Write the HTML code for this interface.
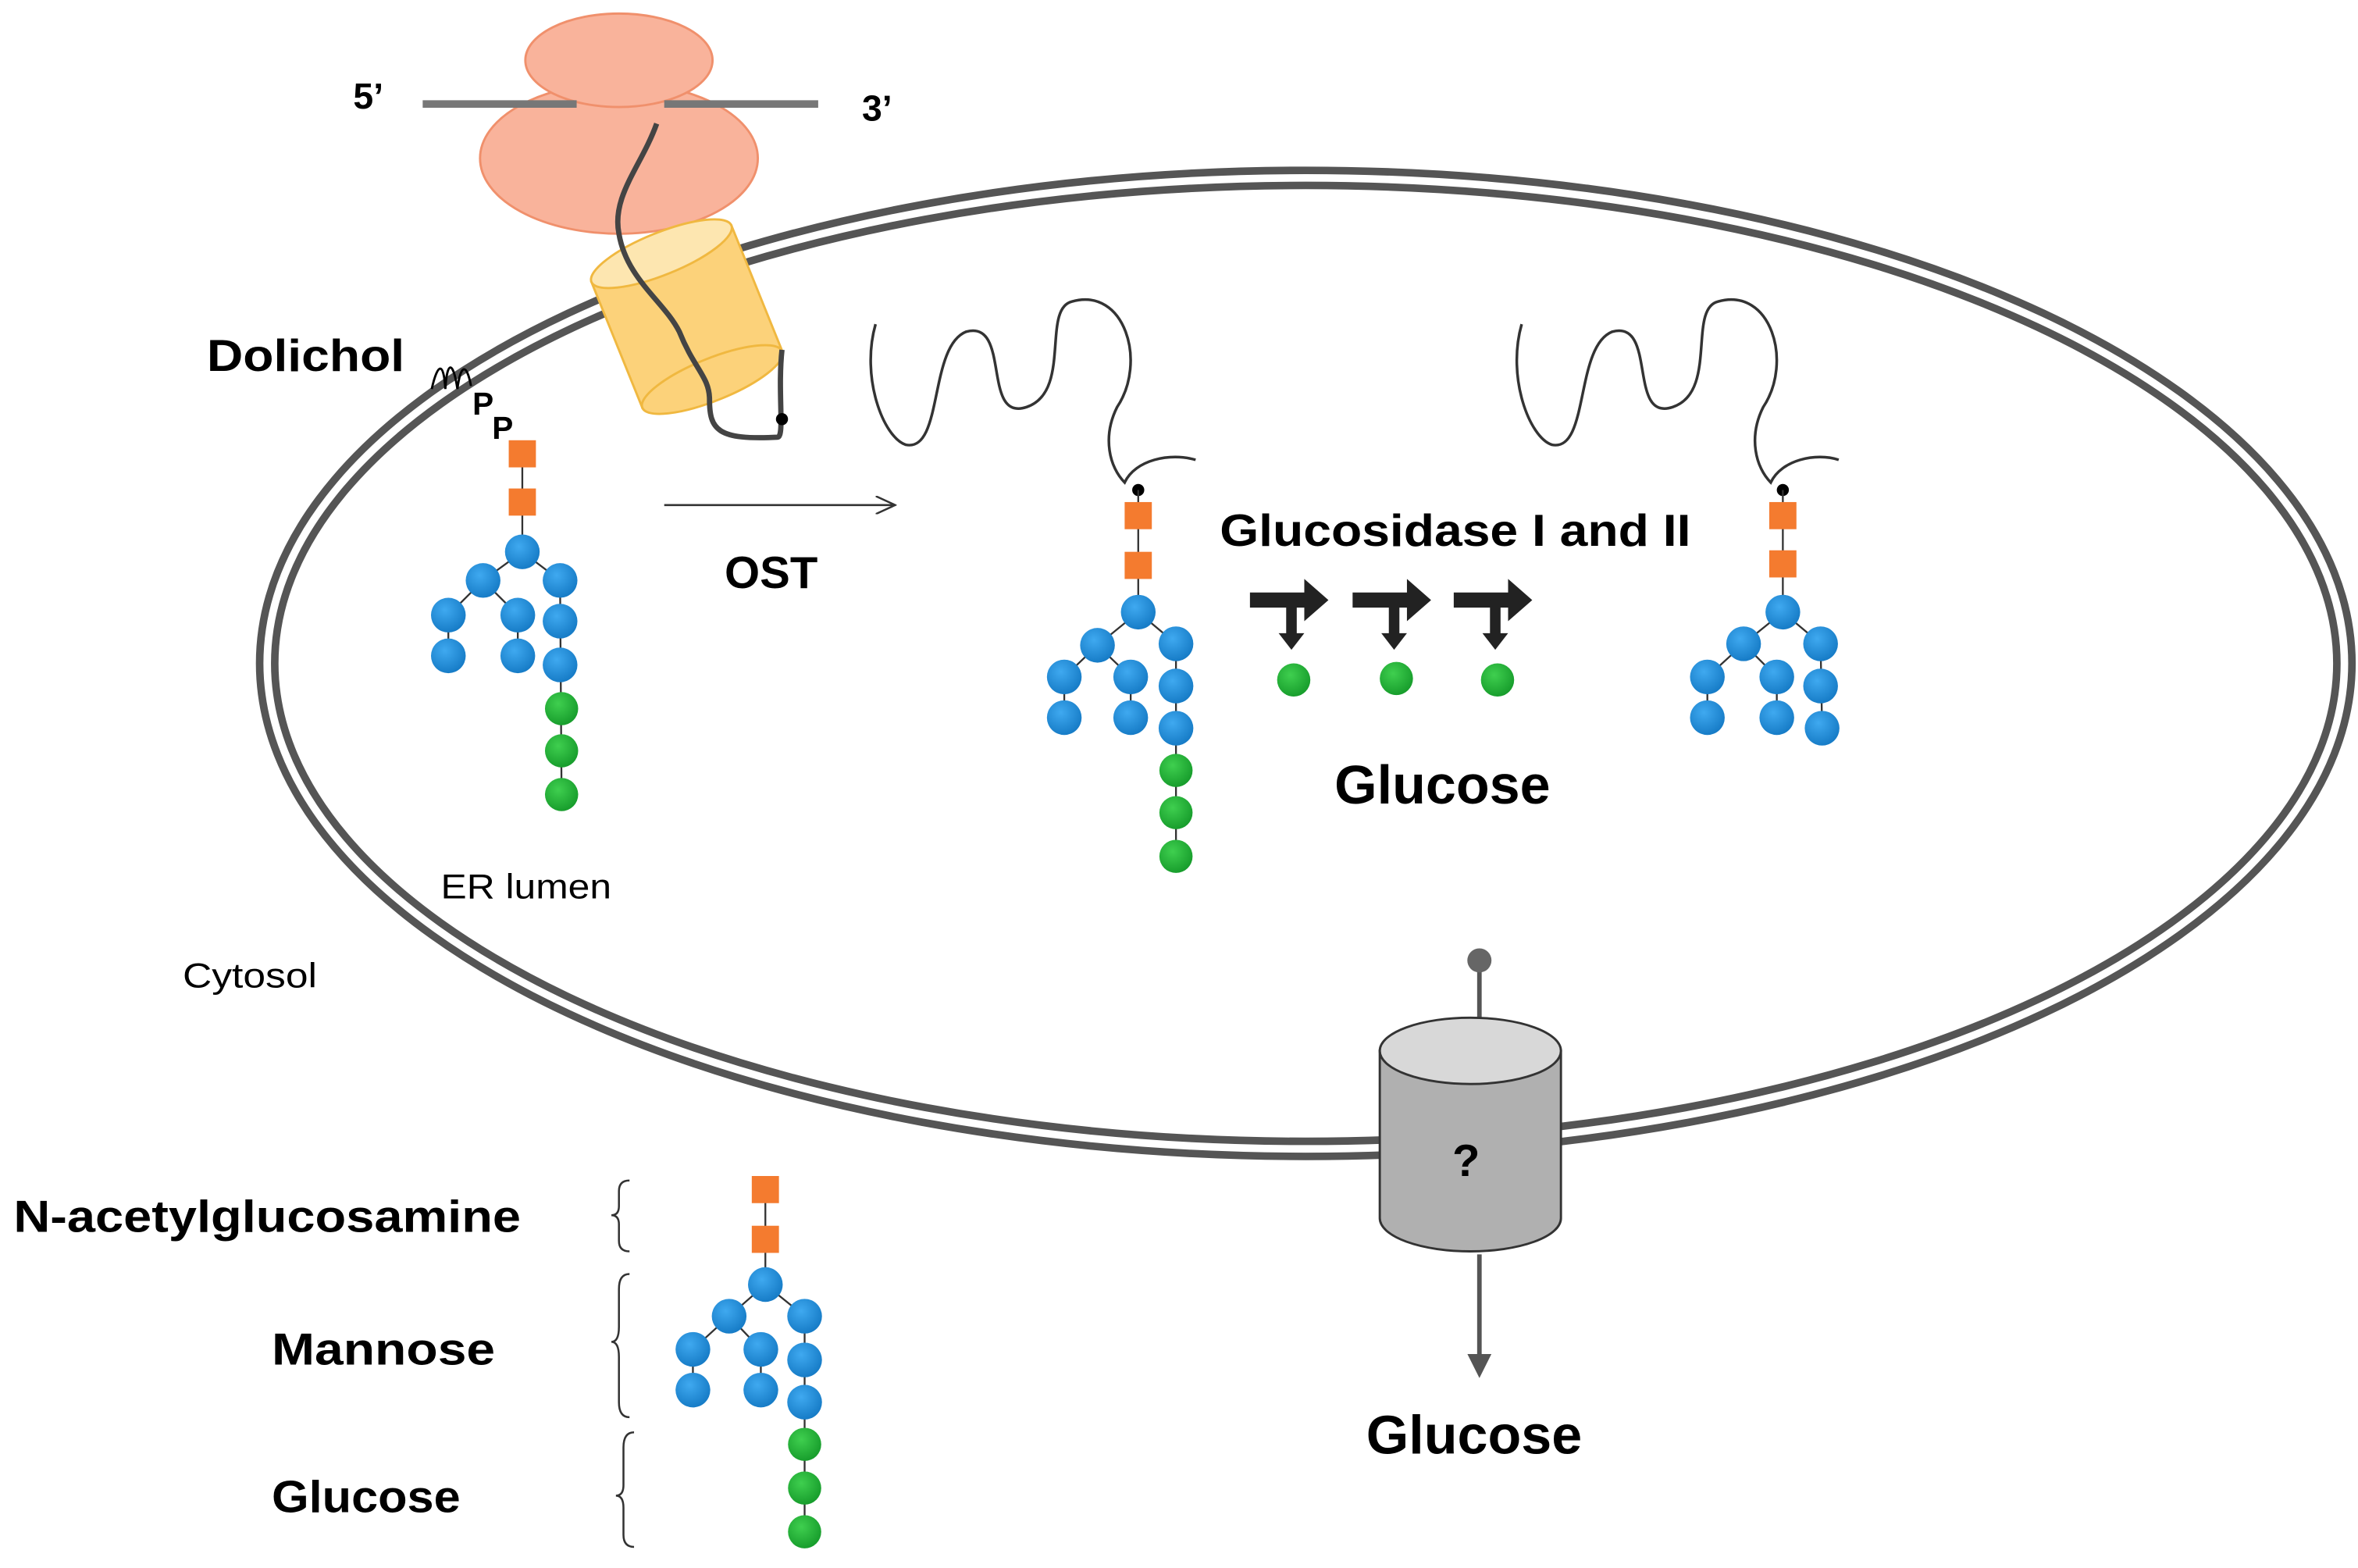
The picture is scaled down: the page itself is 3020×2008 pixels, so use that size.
<!DOCTYPE html>
<html><head><meta charset="utf-8"><style>
html,body{margin:0;padding:0;background:#fff;width:3020px;height:2008px;overflow:hidden}
svg{display:block}
text{font-family:"Liberation Sans",sans-serif;fill:#000}
.b{font-weight:bold}
</style></head><body>
<svg width="3020" height="2008" viewBox="0 0 1562 1040" preserveAspectRatio="none" xmlns="http://www.w3.org/2000/svg">
<defs>
<g id="sq"><rect x="-9" y="-9" width="18" height="18" fill="#f47b2f"/></g>
<radialGradient id="bg" cx="0.4" cy="0.35" r="0.7"><stop offset="0" stop-color="#3fa9f0"/><stop offset="1" stop-color="#1479c4"/></radialGradient>
<radialGradient id="gg" cx="0.4" cy="0.35" r="0.7"><stop offset="0" stop-color="#3fcf4f"/><stop offset="1" stop-color="#159a2a"/></radialGradient>
<circle id="bc" r="11.5" fill="url(#bg)"/>
<circle id="gc" r="11" fill="url(#gg)"/>
<marker id="oa" markerWidth="14" markerHeight="12" refX="13" refY="6" orient="auto" markerUnits="userSpaceOnUse"><path d="M0,0 L13,6 L0,12" fill="none" stroke="#333" stroke-width="1.3"/></marker>
<marker id="ga" markerWidth="16" markerHeight="16" refX="8" refY="8" orient="auto" markerUnits="userSpaceOnUse"><path d="M0,0 L16,8 L0,16 z" fill="#555"/></marker>
</defs>

<ellipse cx="865" cy="440" rx="688" ry="322" fill="none" stroke="#555" stroke-width="15"/>
<ellipse cx="865" cy="440" rx="688" ry="322" fill="none" stroke="#fff" stroke-width="5"/>

<ellipse cx="410" cy="105" rx="92" ry="50" fill="#f9b39b" stroke="#f0906c" stroke-width="1.5"/>
<ellipse cx="410" cy="40" rx="62" ry="31" fill="#f9b39b" stroke="#f0906c" stroke-width="1.5"/>
<line x1="280" y1="69" x2="382" y2="69" stroke="#777" stroke-width="5"/>
<line x1="440" y1="69" x2="542" y2="69" stroke="#777" stroke-width="5"/>
<text x="234" y="72" font-size="24" class="b">5’</text>
<text x="571" y="80" font-size="24" class="b">3’</text>

<g transform="translate(455,210) rotate(-22)">
<rect x="-50" y="-45" width="100" height="90" fill="#fcd27a" stroke="#f0b840" stroke-width="1.5"/>
<ellipse cx="0" cy="45" rx="50" ry="14" fill="#fcd27a" stroke="#f0b840" stroke-width="1.5"/>
<ellipse cx="0" cy="-45" rx="50" ry="14" fill="#fde6b0" stroke="#f0b840" stroke-width="1.5"/>
</g>
<path d="M435,82 C425,110 405,130 410,155 C415,185 440,200 450,220 C460,245 470,250 470,265 C470,285 475,292 515,290 C520,290 515,260 518,232" fill="none" stroke="#444" stroke-width="3.5"/>
<circle cx="518" cy="278" r="4" fill="#000"/>

<text x="137" y="246" font-size="30" class="b" textLength="131" lengthAdjust="spacingAndGlyphs">Dolichol</text>
<path d="M286,258 C290,240 294,240 295,258 C296,240 300,238 303,258 C305,242 309,240 312,256" fill="none" stroke="#000" stroke-width="1.5"/>
<text x="313" y="275" font-size="21" class="b">P</text>
<text x="326" y="291" font-size="21" class="b">P</text>

<g stroke="#333" stroke-width="1.2">
<line x1="346" y1="301" x2="346" y2="366"/><line x1="346" y1="366" x2="320" y2="385"/><line x1="346" y1="366" x2="371" y2="385"/>
<line x1="320" y1="385" x2="297" y2="408"/><line x1="320" y1="385" x2="343" y2="408"/><line x1="297" y1="408" x2="297" y2="435"/><line x1="343" y1="408" x2="343" y2="435"/>
<line x1="371" y1="385" x2="372" y2="527"/>
</g>
<use href="#sq" x="346" y="301"/><use href="#sq" x="346" y="333"/>
<use href="#bc" x="346" y="366"/><use href="#bc" x="320" y="385"/><use href="#bc" x="371" y="385"/>
<use href="#bc" x="297" y="408"/><use href="#bc" x="343" y="408"/><use href="#bc" x="371" y="412"/>
<use href="#bc" x="297" y="435"/><use href="#bc" x="343" y="435"/><use href="#bc" x="371" y="441"/>
<use href="#gc" x="372" y="470"/><use href="#gc" x="372" y="498"/><use href="#gc" x="372" y="527"/>

<line x1="440" y1="335" x2="593" y2="335" stroke="#333" stroke-width="1.3" marker-end="url(#oa)"/>
<text x="480" y="390" font-size="30" class="b">OST</text>

<path d="M580,215 C570,250 585,290 600,295 C625,300 615,230 640,220 C670,212 650,280 680,270 C710,260 690,205 710,200 C745,190 760,240 740,270 C730,290 735,310 745,320 C752,305 775,300 792,305" fill="none" stroke="#333" stroke-width="1.8"/>
<circle cx="754" cy="325" r="4" fill="#000"/>
<path d="M1008,215 C998,250 1013,290 1028,295 C1053,300 1043,230 1068,220 C1098,212 1078,280 1108,270 C1138,260 1118,205 1138,200 C1173,190 1188,240 1168,270 C1158,290 1163,310 1173,320 C1180,305 1203,300 1218,305" fill="none" stroke="#333" stroke-width="1.8"/>
<circle cx="1181" cy="325" r="4" fill="#000"/>

<g stroke="#333" stroke-width="1.2">
<line x1="754" y1="325" x2="754" y2="406"/><line x1="754" y1="406" x2="727" y2="428"/><line x1="754" y1="406" x2="779" y2="427"/>
<line x1="727" y1="428" x2="705" y2="449"/><line x1="727" y1="428" x2="749" y2="449"/><line x1="705" y1="449" x2="705" y2="476"/><line x1="749" y1="449" x2="749" y2="476"/>
<line x1="779" y1="427" x2="779" y2="568"/>
</g>
<use href="#sq" x="754" y="342"/><use href="#sq" x="754" y="375"/>
<use href="#bc" x="754" y="406"/><use href="#bc" x="727" y="428"/><use href="#bc" x="779" y="427"/>
<use href="#bc" x="705" y="449"/><use href="#bc" x="749" y="449"/><use href="#bc" x="779" y="455"/>
<use href="#bc" x="705" y="476"/><use href="#bc" x="749" y="476"/><use href="#bc" x="779" y="483"/>
<use href="#gc" x="779" y="511"/><use href="#gc" x="779" y="539"/><use href="#gc" x="779" y="568"/>

<g stroke="#333" stroke-width="1.2">
<line x1="1181" y1="325" x2="1181" y2="406"/><line x1="1181" y1="406" x2="1155" y2="427"/><line x1="1181" y1="406" x2="1206" y2="427"/>
<line x1="1155" y1="427" x2="1131" y2="449"/><line x1="1155" y1="427" x2="1177" y2="449"/><line x1="1131" y1="449" x2="1131" y2="476"/><line x1="1177" y1="449" x2="1177" y2="476"/>
<line x1="1206" y1="427" x2="1207" y2="483"/>
</g>
<use href="#sq" x="1181" y="342"/><use href="#sq" x="1181" y="374"/>
<use href="#bc" x="1181" y="406"/><use href="#bc" x="1155" y="427"/><use href="#bc" x="1206" y="427"/>
<use href="#bc" x="1131" y="449"/><use href="#bc" x="1177" y="449"/><use href="#bc" x="1206" y="455"/>
<use href="#bc" x="1131" y="476"/><use href="#bc" x="1177" y="476"/><use href="#bc" x="1207" y="483"/>

<text x="808" y="362" font-size="30" class="b" textLength="312" lengthAdjust="spacingAndGlyphs">Glucosidase I and II</text>
<g fill="#222">
<g transform="translate(828,398)"><path d="M0,-5 H36 V-14 L52,0 L36,14 V5 H0 z"/><rect x="24" y="0" width="7" height="24"/><path d="M19,22 L36,22 L27.5,33 z"/></g>
<g transform="translate(896,398)"><path d="M0,-5 H36 V-14 L52,0 L36,14 V5 H0 z"/><rect x="24" y="0" width="7" height="24"/><path d="M19,22 L36,22 L27.5,33 z"/></g>
<g transform="translate(963,398)"><path d="M0,-5 H36 V-14 L52,0 L36,14 V5 H0 z"/><rect x="24" y="0" width="7" height="24"/><path d="M19,22 L36,22 L27.5,33 z"/></g>
</g>
<use href="#gc" x="857" y="451"/><use href="#gc" x="925" y="450"/><use href="#gc" x="992" y="451"/>
<text x="884" y="533" font-size="36" class="b" textLength="143" lengthAdjust="spacingAndGlyphs">Glucose</text>
<text x="292" y="596" font-size="23" textLength="113" lengthAdjust="spacingAndGlyphs">ER lumen</text>
<text x="121" y="655" font-size="23" textLength="89" lengthAdjust="spacingAndGlyphs">Cytosol</text>

<line x1="980" y1="637" x2="980" y2="680" stroke="#555" stroke-width="3"/>
<circle cx="980" cy="637" r="8" fill="#666"/>
<path d="M914,697 V808 A60,22 0 0 0 1034,808 V697 z" fill="#b0b0b0" stroke="#333" stroke-width="1.5"/>
<ellipse cx="974" cy="697" rx="60" ry="22" fill="#d8d8d8" stroke="#333" stroke-width="1.5"/>
<text x="962" y="780" font-size="30" class="b">?</text>
<line x1="980" y1="832" x2="980" y2="906" stroke="#555" stroke-width="3" marker-end="url(#ga)"/>
<text x="905" y="964" font-size="36" class="b" textLength="143" lengthAdjust="spacingAndGlyphs">Glucose</text>

<text x="9" y="817" font-size="30" class="b" textLength="336" lengthAdjust="spacingAndGlyphs">N-acetylglucosamine</text>
<text x="180" y="905" font-size="30" class="b" textLength="148" lengthAdjust="spacingAndGlyphs">Mannose</text>
<text x="180" y="1003" font-size="30" class="b" textLength="125" lengthAdjust="spacingAndGlyphs">Glucose</text>
<g fill="none" stroke="#333" stroke-width="1.3">
<path d="M417,783 Q410,783 410,790 V800 Q410,806 405,806 Q410,806 410,812 V823 Q410,830 417,830"/>
<path d="M417,845 Q410,845 410,855 V880 Q410,890 405,890 Q410,890 410,900 V930 Q410,940 417,940"/>
<path d="M420,950 Q413,950 413,960 V985 Q413,992 408,992 Q413,992 413,1000 V1018 Q413,1026 420,1026"/>
</g>
<g stroke="#333" stroke-width="1.2">
<line x1="507" y1="789" x2="507" y2="852"/><line x1="507" y1="852" x2="483" y2="873"/><line x1="507" y1="852" x2="533" y2="873"/>
<line x1="483" y1="873" x2="459" y2="895"/><line x1="483" y1="873" x2="504" y2="895"/><line x1="459" y1="895" x2="459" y2="922"/><line x1="504" y1="895" x2="504" y2="922"/>
<line x1="533" y1="873" x2="533" y2="1016"/>
</g>
<use href="#sq" x="507" y="789"/><use href="#sq" x="507" y="822"/>
<use href="#bc" x="507" y="852"/><use href="#bc" x="483" y="873"/><use href="#bc" x="533" y="873"/>
<use href="#bc" x="459" y="895"/><use href="#bc" x="504" y="895"/><use href="#bc" x="533" y="902"/>
<use href="#bc" x="459" y="922"/><use href="#bc" x="504" y="922"/><use href="#bc" x="533" y="930"/>
<use href="#gc" x="533" y="958"/><use href="#gc" x="533" y="987"/><use href="#gc" x="533" y="1016"/>
</svg>
</body></html>
